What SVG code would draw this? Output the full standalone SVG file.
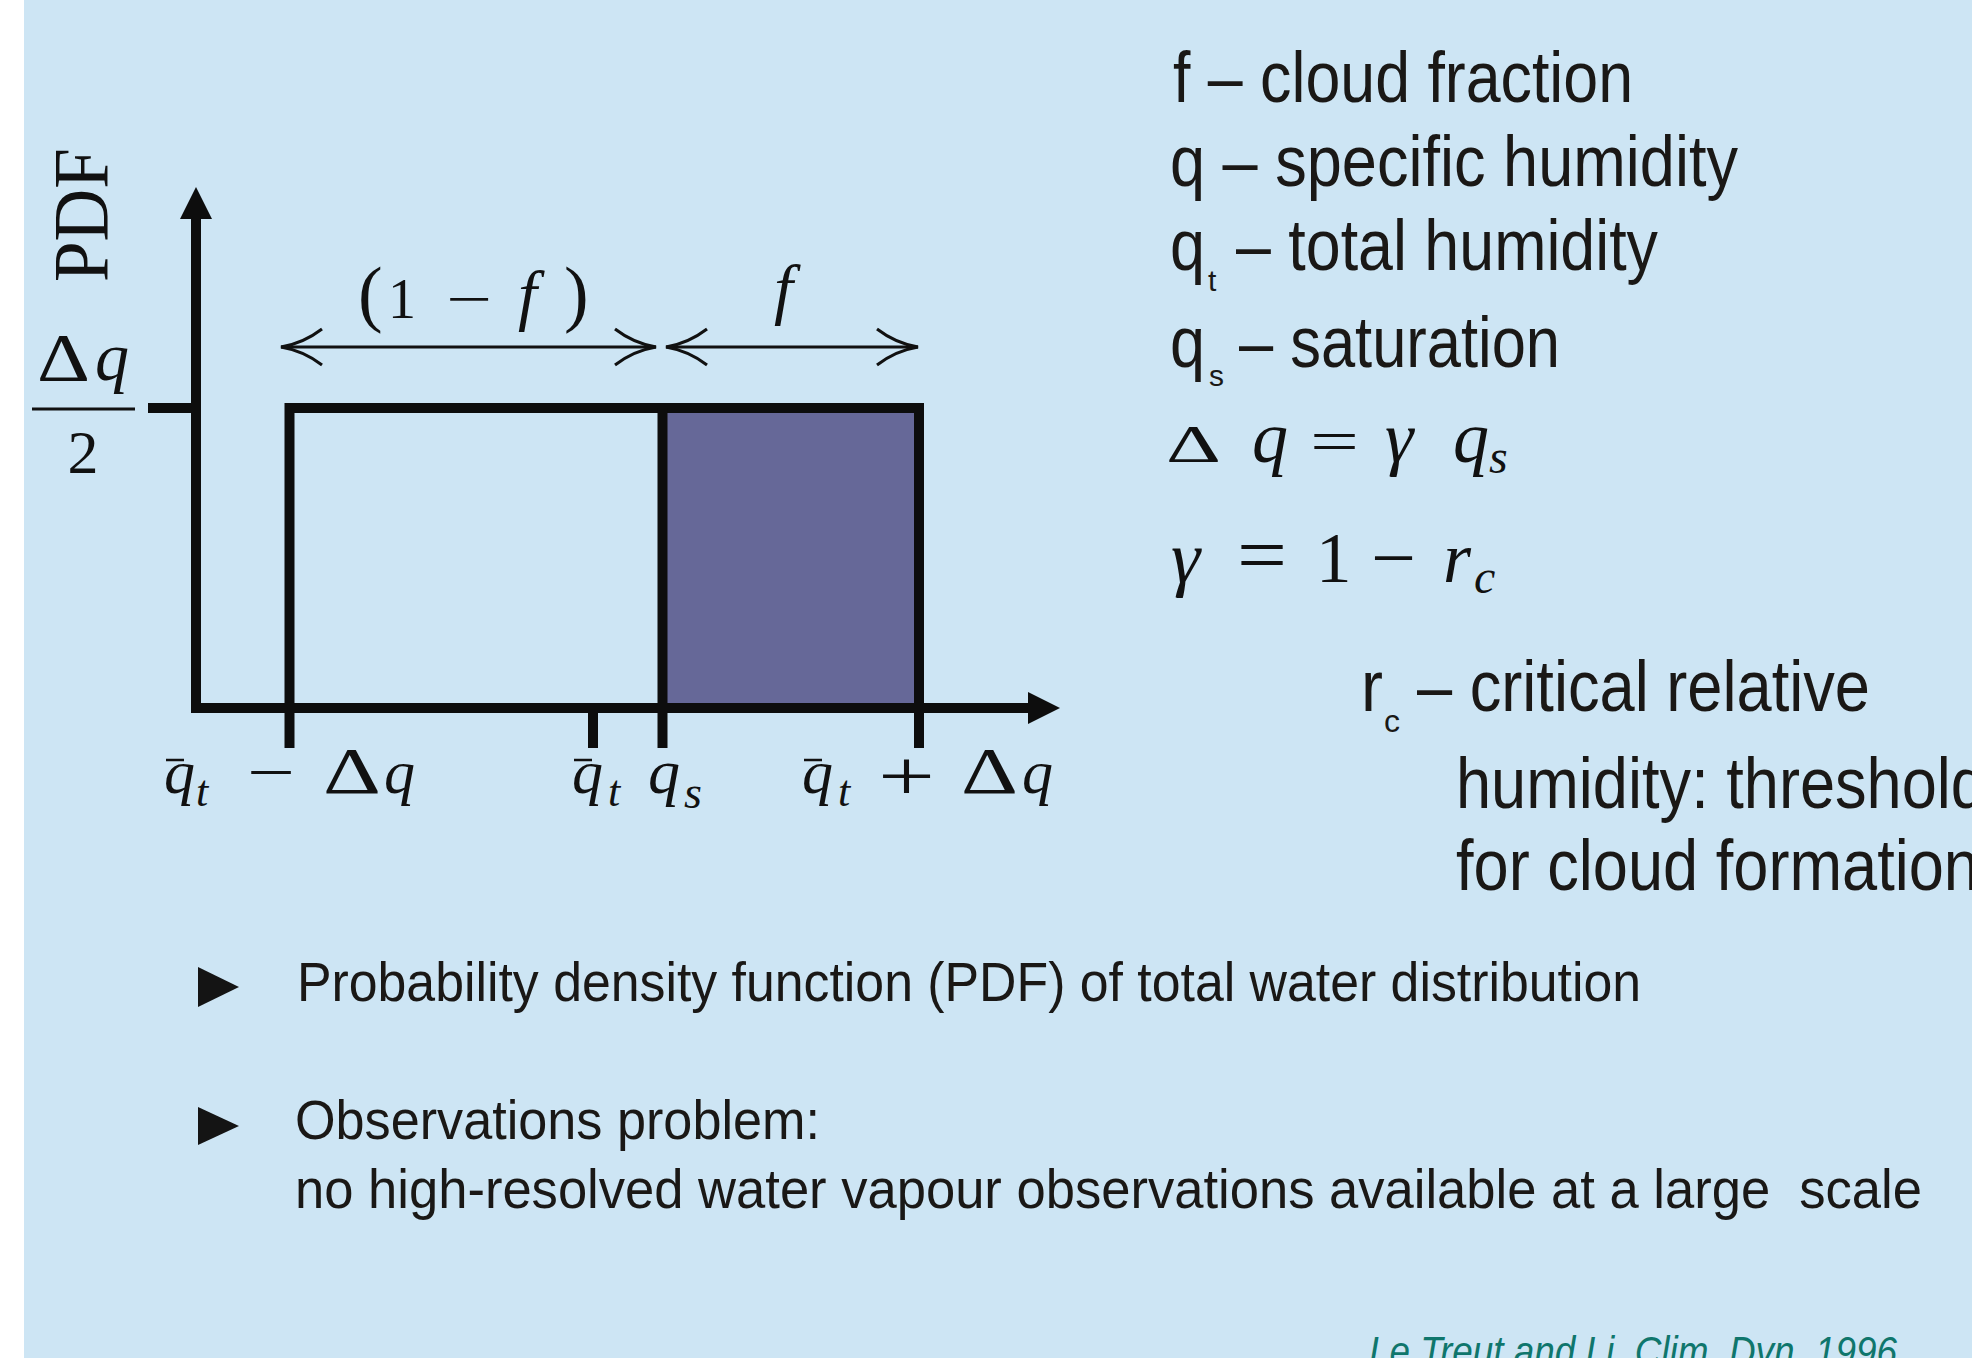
<svg xmlns="http://www.w3.org/2000/svg" width="1972" height="1358" viewBox="0 0 1972 1358">
  <defs>
    <style>
      .m { font-family: "Liberation Serif", "Times New Roman", serif; fill: #111; }
      .mi { font-family: "Liberation Serif", "Times New Roman", serif; font-style: italic; fill: #111; }
      .t { font-family: "Liberation Sans", Arial, sans-serif; fill: #1a1816; }
      .axis { stroke: #0d0d0d; stroke-width: 10; fill: none; }
      .dim { stroke: #111; stroke-width: 3; fill: none; }
      .bar { stroke: #111; stroke-width: 2.5; }
    </style>
    <marker id="axhead" viewBox="0 -16 32 32" refX="0" refY="0" markerWidth="32" markerHeight="32" markerUnits="userSpaceOnUse" orient="auto">
      <path d="M0,-16 L32,0 L0,16 z" fill="#0d0d0d"/>
    </marker>
    <marker id="dimhead" viewBox="-44 -22 48 44" refX="0" refY="0" markerWidth="48" markerHeight="44" markerUnits="userSpaceOnUse" orient="auto-start-reverse">
      <path d="M-41,-18 C-28,-8 -12,-2 0,0 C-12,2 -28,8 -41,18" fill="none" stroke="#111" stroke-width="3"/>
    </marker>
  </defs>

  <rect x="0" y="0" width="1972" height="1358" fill="#ffffff"/>
  <rect x="24" y="0" width="1948" height="1358" fill="#cde5f4"/>

  <!-- plot box -->
  <g id="pdf-box">
    <rect x="662" y="408" width="257" height="300" fill="#666898"/>
    <path class="axis" d="M289.5,713 V408 H919 V713"/>
    <line class="axis" x1="662.5" y1="408" x2="662.5" y2="713"/>
  </g>

  <g id="ticks">
    <line class="axis" x1="289.5" y1="703" x2="289.5" y2="748"/>
    <line class="axis" x1="593" y1="703" x2="593" y2="748" stroke-width="9"/>
    <line class="axis" x1="662.5" y1="703" x2="662.5" y2="748"/>
    <line class="axis" x1="919" y1="703" x2="919" y2="748"/>
    <line class="axis" x1="148" y1="408" x2="196" y2="408" stroke-width="11"/>
  </g>

  <!-- connectors -->
  <g id="connectors">
    <line class="axis" x1="196" y1="713" x2="196" y2="219" marker-end="url(#axhead)"/>
    <line class="axis" x1="191" y1="708" x2="1028" y2="708" marker-end="url(#axhead)"/>
    <line class="dim" x1="281" y1="347" x2="656" y2="347" marker-start="url(#dimhead)" marker-end="url(#dimhead)"/>
    <line class="dim" x1="666" y1="347" x2="918" y2="347" marker-start="url(#dimhead)" marker-end="url(#dimhead)"/>
  </g>

  <!-- y axis labels -->
  <g id="label-pdf">
    <text class="m" transform="translate(107,282) rotate(-90)" x="0" y="0" font-size="78" textLength="134" lengthAdjust="spacingAndGlyphs">PDF</text>
  </g>
  <g id="label-dq2">
    <text class="m" x="37" y="380" font-size="68" textLength="53" lengthAdjust="spacingAndGlyphs">Δ</text>
    <text class="mi" x="95" y="380" font-size="68">q</text>
    <line x1="32" y1="409" x2="135" y2="409" stroke="#111" stroke-width="3"/>
    <text class="m" x="83" y="473" font-size="62" text-anchor="middle">2</text>
  </g>

  <!-- dimension labels -->
  <g id="label-1mf">
    <text class="m" x="358" y="318" font-size="74">(</text>
    <text class="m" x="388" y="318" font-size="56">1</text>
    <text class="m" x="446" y="318" font-size="56" textLength="46" lengthAdjust="spacingAndGlyphs">−</text>
    <text class="mi" x="518" y="318" font-size="68">f</text>
    <text class="m" x="564" y="318" font-size="74">)</text>
  </g>
  <g id="label-f">
    <text class="mi" x="774" y="312" font-size="68">f</text>
  </g>

  <!-- x axis labels -->
  <g id="label-qt-minus">
    <line class="bar" x1="166" y1="760" x2="184" y2="760"/>
    <text class="mi" x="164" y="793" font-size="62">q</text>
    <text class="mi" x="196" y="806" font-size="44">t</text>
    <text class="m" x="247" y="793" font-size="62" textLength="48" lengthAdjust="spacingAndGlyphs">−</text>
    <text class="m" x="323" y="793" font-size="65" textLength="58" lengthAdjust="spacingAndGlyphs">Δ</text>
    <text class="mi" x="384" y="793" font-size="62">q</text>
  </g>
  <g id="label-qt">
    <line class="bar" x1="574" y1="760" x2="592" y2="760"/>
    <text class="mi" x="572" y="793" font-size="62">q</text>
    <text class="mi" x="608" y="806" font-size="44">t</text>
  </g>
  <g id="label-qs">
    <text class="mi" x="648" y="793" font-size="64">q</text>
    <text class="mi" x="684" y="808" font-size="46">s</text>
  </g>
  <g id="label-qt-plus">
    <line class="bar" x1="804" y1="760" x2="822" y2="760"/>
    <text class="mi" x="802" y="793" font-size="62">q</text>
    <text class="mi" x="838" y="806" font-size="44">t</text>
    <text class="m" x="878" y="800" font-size="72" textLength="57" lengthAdjust="spacingAndGlyphs">+</text>
    <text class="m" x="961" y="793" font-size="65" textLength="57" lengthAdjust="spacingAndGlyphs">Δ</text>
    <text class="mi" x="1022" y="793" font-size="62">q</text>
  </g>

  <!-- legend -->
  <g id="legend-f">
    <text class="t" x="1173" y="102" font-size="72" textLength="460" lengthAdjust="spacingAndGlyphs">f – cloud fraction</text>
  </g>
  <g id="legend-q">
    <text class="t" x="1170" y="186" font-size="72" textLength="568" lengthAdjust="spacingAndGlyphs">q – specific humidity</text>
  </g>
  <g id="legend-qt">
    <text class="t" x="1170" y="270" font-size="72" textLength="35" lengthAdjust="spacingAndGlyphs">q</text>
    <text class="t" x="1208" y="291" font-size="30">t</text>
    <text class="t" x="1236" y="270" font-size="72" textLength="422" lengthAdjust="spacingAndGlyphs">– total humidity</text>
  </g>
  <g id="legend-qs">
    <text class="t" x="1170" y="367" font-size="72" textLength="35" lengthAdjust="spacingAndGlyphs">q</text>
    <text class="t" x="1209" y="386" font-size="30">s</text>
    <text class="t" x="1239" y="367" font-size="72" textLength="321" lengthAdjust="spacingAndGlyphs">– saturation</text>
  </g>
  <g id="eq-dq">
    <text class="m" x="1166" y="462" font-size="52" textLength="55" lengthAdjust="spacingAndGlyphs">Δ</text>
    <text class="mi" x="1252" y="462" font-size="72">q</text>
    <text class="m" x="1310" y="462" font-size="62" textLength="49" lengthAdjust="spacingAndGlyphs">=</text>
    <text class="mi" x="1385" y="462" font-size="72">γ</text>
    <text class="mi" x="1453" y="462" font-size="72">q</text>
    <text class="mi" x="1489" y="473" font-size="48">s</text>
  </g>
  <g id="eq-gamma">
    <text class="mi" x="1171" y="582" font-size="74">γ</text>
    <text class="m" x="1237" y="582" font-size="80" textLength="50" lengthAdjust="spacingAndGlyphs">=</text>
    <text class="m" x="1316" y="582" font-size="71">1</text>
    <text class="m" x="1371" y="582" font-size="72" textLength="45" lengthAdjust="spacingAndGlyphs">−</text>
    <text class="mi" x="1443" y="582" font-size="72">r</text>
    <text class="mi" x="1474" y="593" font-size="48">c</text>
  </g>
  <g id="legend-rc">
    <text class="t" x="1361" y="711" font-size="72" textLength="22" lengthAdjust="spacingAndGlyphs">r</text>
    <text class="t" x="1384" y="732" font-size="32">c</text>
    <text class="t" x="1417" y="711" font-size="72" textLength="453" lengthAdjust="spacingAndGlyphs">– critical relative</text>
    <text class="t" x="1456" y="808" font-size="72" textLength="530" lengthAdjust="spacingAndGlyphs">humidity: threshold</text>
    <text class="t" x="1456" y="890" font-size="72" textLength="523" lengthAdjust="spacingAndGlyphs">for cloud formation</text>
  </g>

  <!-- bullets -->
  <g id="bullet-1">
    <polygon points="198,967 239,987 198,1007" fill="#141414"/>
    <text class="t" x="297" y="1001" font-size="56" textLength="1344" lengthAdjust="spacingAndGlyphs">Probability density function (PDF) of total water distribution</text>
  </g>
  <g id="bullet-2">
    <polygon points="198,1107 239,1126 198,1145" fill="#141414"/>
    <text class="t" x="295" y="1139" font-size="56" textLength="525" lengthAdjust="spacingAndGlyphs">Observations problem:</text>
    <text class="t" x="295" y="1208" font-size="56" textLength="1627" lengthAdjust="spacingAndGlyphs" xml:space="preserve">no high-resolved water vapour observations available at a large  scale</text>
  </g>

  <g id="citation">
    <text x="1369" y="1366" font-family="'Liberation Sans', Arial, sans-serif" font-style="italic" font-size="42" fill="#0f766c" textLength="528" lengthAdjust="spacingAndGlyphs">Le Treut and Li, Clim. Dyn. 1996</text>
  </g>
</svg>
